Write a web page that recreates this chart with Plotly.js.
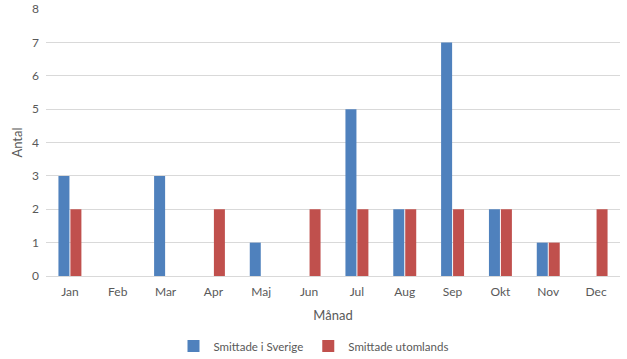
<!DOCTYPE html>
<html><head><meta charset="utf-8">
<script src="https://cdn.plot.ly/plotly-3.0.1.min.js"></script>
<style>body{margin:0;background:#fff}</style>
</head><body><div id="chart" style="width:627px;height:359px"></div>
<script>
const months = ["Jan","Feb","Mar","Apr","Maj","Jun","Jul","Aug","Sep","Okt","Nov","Dec"];
const sverige = [3,0,3,0,1,0,5,2,7,2,1,0];
const utomlands = [2,0,0,2,0,2,2,2,2,2,1,2];
const font = {family:"Lato, Open Sans, sans-serif", size:12, color:"#595959"};
Plotly.newPlot("chart", [
  {type:"bar", name:"Smittade i Sverige", x:months, y:sverige, marker:{color:"#4F81BD"}},
  {type:"bar", name:"Smittade utomlands", x:months, y:utomlands, marker:{color:"#C0504D"}}
], {
  width:627, height:359, margin:{l:46,r:7,t:9,b:83},
  paper_bgcolor:"#fff", plot_bgcolor:"#fff", font:font,
  barmode:"group", bargap:0.5, bargroupgap:0.08,
  xaxis:{automargin:false, title:{text:"Månad", font:{size:13,color:"#595959"}, standoff:12}, ticklabelstandoff:5, showgrid:false, showline:true, linecolor:"#d9d9d9", ticks:"", ticklen:0, tickfont:font},
  yaxis:{automargin:false, title:{text:"Antal", font:{size:13,color:"#595959"}, standoff:6}, ticklabelstandoff:6, range:[0,8], dtick:1, gridcolor:"#d9d9d9", zeroline:true, zerolinecolor:"#d9d9d9", showline:false, ticks:"", tickfont:font},
  legend:{orientation:"h", x:0.5, xref:"container", xanchor:"center", y:0.036, yref:"container", yanchor:"middle", font:{family:font.family, size:11.5, color:"#595959"}, traceorder:"normal", itemwidth:30},
  showlegend:true
}, {displayModeBar:false, staticPlot:true});
</script></body></html>
